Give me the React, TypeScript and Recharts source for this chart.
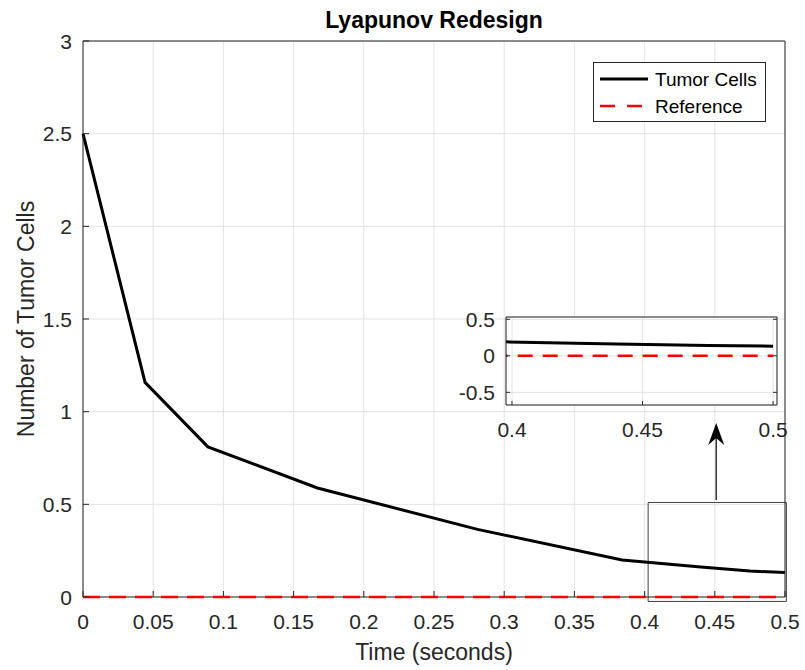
import {
  LineChart, Line, XAxis, YAxis, CartesianGrid, ReferenceArea, ReferenceLine, Legend, Customized,
} from 'recharts';

// simulated tumor cell count over time
const timeSec = [0, 0.0442, 0.089, 0.167, 0.281, 0.384, 0.44, 0.475, 0.5];
const tumorCells = [2.5, 1.158, 0.81, 0.588, 0.365, 0.2, 0.162, 0.14, 0.132];
// reference (target) level
const refTime = [0, 0.5];
const refCells = [0, 0];

const seriesNames = ['Tumor Cells', 'Reference'];
const xTicks = [0, 0.05, 0.1, 0.15, 0.2, 0.25, 0.3, 0.35, 0.4, 0.45, 0.5];
const yTicks = [0, 0.5, 1, 1.5, 2, 2.5, 3];

// zoomed window shown in the inset
const zoomX = [0.3977, 0.5015];
const zoomY = [-0.673, 0.531];
const zoomXTicks = [0.4, 0.45, 0.5];
const zoomYTicks = [-0.5, 0, 0.5];
const zoomRectX = [0.4025, 0.501];
const zoomRectY = [-0.024, 0.51];
const arrowX = 0.451;
const arrowY = [0.523, 0.939];

const tumorData = timeSec.map((t, i) => ({ t, v: tumorCells[i] }));
const refData = refTime.map((t, i) => ({ t, v: refCells[i] }));

const FONT = '"Liberation Sans", Arial, Helvetica, sans-serif';
const AXIS = '#262626';
const GRID = '#e3e3e3';

const tickText = (x: number, y: number, v: number, anchor: 'middle' | 'end') => (
  <text x={x} y={y} textAnchor={anchor} fontSize={21} fill={AXIS} fontFamily={FONT}>
    {String(v)}
  </text>
);

const bottomTick = (len: number) => ({ x, y, payload }: any) => (
  <g>
    <line x1={x} x2={x} y1={y} y2={y - len} stroke={AXIS} />
    {tickText(x, y + 32, payload.value, 'middle')}
  </g>
);

const topTick = (len: number) => ({ x, y }: any) => (
  <line x1={x} x2={x} y1={y} y2={y + len} stroke={AXIS} />
);

const leftTick = (len: number) => ({ x, y, payload }: any) => (
  <g>
    <line x1={x} x2={x + len} y1={y} y2={y} stroke={AXIS} />
    {tickText(x - 11, y + 7.5, payload.value, 'end')}
  </g>
);

const rightTick = (len: number) => ({ x, y }: any) => (
  <line x1={x} x2={x - len} y1={y} y2={y} stroke={AXIS} />
);

const Arrow = ({ x1, y1, x2, y2 }: any) => (
  <g>
    <line x1={x1} y1={y1} x2={x2} y2={y2 + 14} stroke="#000" strokeWidth={1.2} />
    <path d={`M${x2},${y2} L${x2 - 8},${y2 + 22} L${x2},${y2 + 15} L${x2 + 8},${y2 + 22} Z`} fill="#000" />
  </g>
);

const LegendBox = ({ payload }: any) => {
  const items = seriesNames
    .map((name) => (payload || []).find((p: any) => p.value === name))
    .filter(Boolean);
  return (
    <svg width={173} height={60} style={{ display: 'block' }}>
      <rect x={0.5} y={0.5} width={172} height={59} fill="#fff" stroke={AXIS} />
      {items.map((entry: any, i: number) => {
        const dashed = entry.value === 'Reference';
        const cy = 17 + i * 27;
        return (
          <g key={entry.value}>
            <line
              x1={7}
              x2={dashed ? 49 : 55}
              y1={cy}
              y2={cy}
              stroke={entry.color}
              strokeWidth={dashed ? 2.5 : 3}
              strokeDasharray={dashed ? '15 12' : undefined}
            />
            <text x={62} y={cy + 7} fontSize={19} fontFamily={FONT} fill="#000">
              {entry.value}
            </text>
          </g>
        );
      })}
    </svg>
  );
};

const ChartTitles = () => (
  <g fontFamily={FONT}>
    <text x={434} y={28} textAnchor="middle" fontSize={23} fontWeight="bold" fill="#000">
      Lyapunov Redesign
    </text>
    <text x={434} y={660} textAnchor="middle" fontSize={23} fill={AXIS}>
      Time (seconds)
    </text>
    <text transform="translate(34,319) rotate(-90)" textAnchor="middle" fontSize={23} fill={AXIS}>
      Number of Tumor Cells
    </text>
  </g>
);

const MainChart = () => (
  <LineChart width={805} height={670} margin={{ top: 40, right: 19, bottom: 72, left: 82 }}>
    <CartesianGrid stroke={GRID} />
    <XAxis
      type="number" dataKey="t" domain={[0, 0.5]} ticks={xTicks} interval={0}
      height={1} tickSize={0} tickMargin={0} tickLine={false}
      axisLine={{ stroke: AXIS }} tick={bottomTick(6)}
    />
    <XAxis
      xAxisId="top" orientation="top" type="number" domain={[0, 0.5]} ticks={xTicks} interval={0}
      height={1} tickSize={0} tickMargin={0} tickLine={false}
      axisLine={{ stroke: AXIS }} tick={topTick(6)}
    />
    <YAxis
      type="number" domain={[0, 3]} ticks={yTicks} interval={0}
      width={1} tickSize={0} tickMargin={0} tickLine={false}
      axisLine={{ stroke: AXIS }} tick={leftTick(6)}
    />
    <YAxis
      yAxisId="right" orientation="right" type="number" domain={[0, 3]} ticks={yTicks} interval={0}
      width={1} tickSize={0} tickMargin={0} tickLine={false}
      axisLine={{ stroke: AXIS }} tick={rightTick(6)}
    />
    <ReferenceArea
      x1={zoomRectX[0]} x2={zoomRectX[1]} y1={zoomRectY[0]} y2={zoomRectY[1]}
      fill="none" stroke="#404040" strokeWidth={1} ifOverflow="visible"
    />
    <Line
      data={tumorData} dataKey="v" name={seriesNames[0]} type="linear"
      stroke="#000" strokeWidth={3} dot={false} isAnimationActive={false}
    />
    {/* the target level sits on the x axis, so keep it above the axis line */}
    <Line
      data={refData} dataKey="v" name={seriesNames[1]} type="linear" zIndex={600}
      stroke="#ff0000" strokeWidth={2.5} strokeDasharray="17 9" dot={false} isAnimationActive={false}
    />
    <ReferenceLine
      segment={[{ x: arrowX, y: arrowY[0] }, { x: arrowX, y: arrowY[1] }]}
      shape={Arrow} ifOverflow="visible"
    />
    <Legend
      layout="vertical" align="center" verticalAlign="middle"
      wrapperStyle={{ left: 593, top: 62, width: 173, height: 60 }}
      content={LegendBox}
    />
    <Customized component={ChartTitles} />
  </LineChart>
);

const ZoomInset = () => (
  <LineChart width={360} height={150} margin={{ top: 16, right: 22, bottom: 44, left: 65 }}>
    <CartesianGrid stroke={GRID} fill="#fff" />
    <XAxis
      type="number" dataKey="t" domain={zoomX} allowDataOverflow ticks={zoomXTicks} interval={0}
      height={1} tickSize={0} tickMargin={0} tickLine={false}
      axisLine={{ stroke: AXIS }} tick={bottomTick(4)}
    />
    <XAxis
      xAxisId="top" orientation="top" type="number" domain={zoomX} allowDataOverflow ticks={zoomXTicks} interval={0}
      height={1} tickSize={0} tickMargin={0} tickLine={false}
      axisLine={{ stroke: AXIS }} tick={topTick(4)}
    />
    <YAxis
      type="number" domain={zoomY} allowDataOverflow ticks={zoomYTicks} interval={0}
      width={1} tickSize={0} tickMargin={0} tickLine={false}
      axisLine={{ stroke: AXIS }} tick={leftTick(4)}
    />
    <YAxis
      yAxisId="right" orientation="right" type="number" domain={zoomY} allowDataOverflow ticks={zoomYTicks} interval={0}
      width={1} tickSize={0} tickMargin={0} tickLine={false}
      axisLine={{ stroke: AXIS }} tick={rightTick(4)}
    />
    <Line
      data={tumorData} dataKey="v" type="linear"
      stroke="#000" strokeWidth={3} dot={false} isAnimationActive={false}
    />
    <Line
      data={refData} dataKey="v" type="linear"
      stroke="#ff0000" strokeWidth={2.5} strokeDasharray="15 10" dot={false} isAnimationActive={false}
    />
  </LineChart>
);

export default function App() {
  return (
    <div style={{ position: 'absolute', left: 0, top: 0, width: 805, height: 670, background: '#fff' }}>
      <MainChart />
      <div style={{ position: 'absolute', left: 440, top: 300 }}>
        <ZoomInset />
      </div>
    </div>
  );
}
